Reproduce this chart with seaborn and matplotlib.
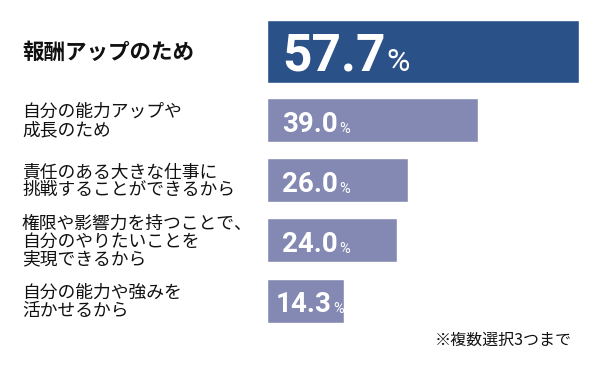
import matplotlib
matplotlib.use("Agg")
import matplotlib.pyplot as plt
import matplotlib.transforms as mtransforms
import seaborn as sns

# data
reasons = [
    "報酬アップのため",
    "自分の能力アップや\n成長のため",
    "責任のある大きな仕事に\n挑戦することができるから",
    "権限や影響力を持つことで、\n自分のやりたいことを\n実現できるから",
    "自分の能力や強みを\n活かせるから",
]
shares = [57.7, 39.0, 26.0, 24.0, 14.3]
note = "※複数選択3つまで"

TOP_COLOR = "#2b5189"
REST_COLOR = "#8389b3"
JP_FONT = ["Noto Sans CJK JP", "DejaVu Sans"]
NUM_FONT = ["Liberation Sans Narrow", "Roboto"]

sns.set_theme(style="white")
plt.rcParams["font.family"] = JP_FONT

fig = plt.figure(figsize=(6.0, 3.68), dpi=100)
ax = fig.add_axes([267 / 600, 0, 1 - 267 / 600, 1])

colors = [TOP_COLOR] + [REST_COLOR] * (len(reasons) - 1)
sns.barplot(x=shares, y=reasons, hue=reasons, palette=colors, orient="h",
            width=0.73, legend=False, ax=ax, saturation=1)

ax.set_xlim(0, 333 / 5.41)
ax.set_ylim(5.12, -0.994)
ax.axis("off")

# the leading bar is drawn taller than the others
top = ax.patches[0]
top.set_height(1.047)
top.set_y(-0.138 - 1.047 / 2)

label_tf = mtransforms.blended_transform_factory(fig.transFigure, ax.transData)

for i, (patch, reason, val) in enumerate(zip(ax.patches, reasons, shares)):
    yc = patch.get_y() + patch.get_height() / 2
    first = i == 0
    ax.annotate(reason, xy=(22 / 600, yc), xycoords=label_tf, xytext=(0, -1),
                textcoords="offset pixels", ha="left", va="center",
                fontsize=15.5 if first else 12.8, fontweight="bold" if first else "normal",
                linespacing=1.0, color="#111111")

    num = ax.annotate(f"{val:.1f}", xy=(0, yc), xytext=(15 if val >= 20 else 9, -18.5 if first else -11.7),
                      textcoords="offset pixels", ha="left", va="baseline",
                      fontsize=37 if first else 20, fontweight="bold",
                      family=NUM_FONT, color="white")
    ax.annotate("%", xy=(1, 0), xycoords=num, xytext=(1, 4 if first else 2),
                textcoords="offset pixels", ha="left", va="bottom",
                fontsize=23 if first else 10.5, family=NUM_FONT, color="white")

fig.text(572 / 600, 1 - 340 / 368, note, ha="right", va="center",
         fontsize=11.5, color="#111111")

fig.savefig("out.png", dpi=100, facecolor="white")
